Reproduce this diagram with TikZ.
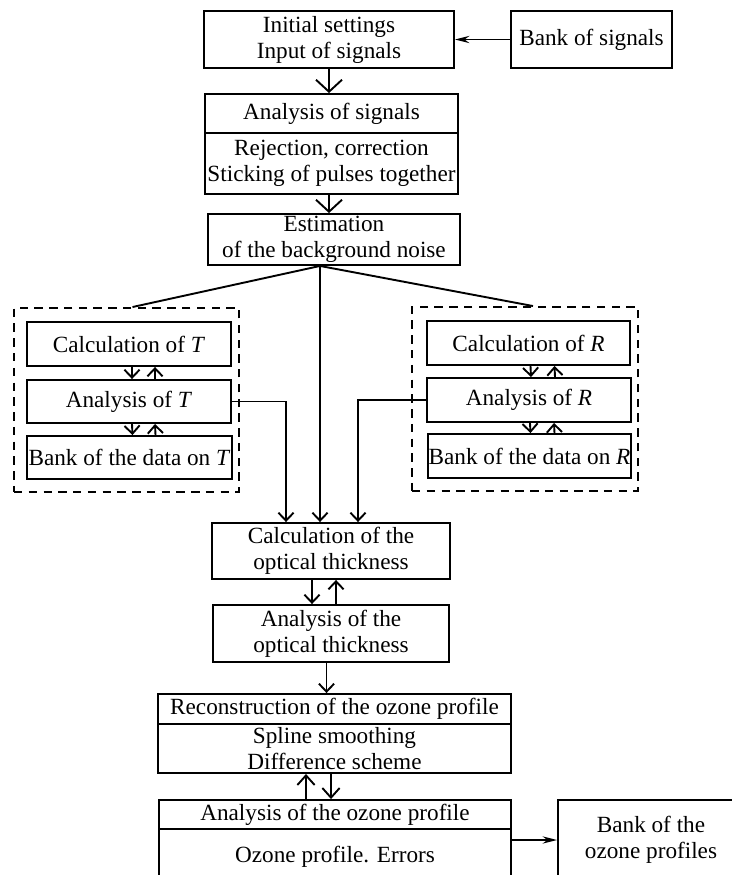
\documentclass[tikz,border=0pt]{standalone}
\usepackage{fontspec}
\setmainfont{Liberation Serif}
\usetikzlibrary{arrows.meta,calc}

\begin{document}
\begin{tikzpicture}[x=0.025cm,y=-0.025cm,line width=1.35pt,
    every node/.style={font=\fontsize{16.5}{18.5}\selectfont},
    box/.style={draw,rectangle,align=center,inner sep=0pt},
    dashframe/.style={draw,dash pattern=on 6pt off 4.5pt,inner sep=0pt},
    bigarrow/.style={-{Straight Barb[length=3mm,width=6.5mm]}},
    midarrow/.style={-{Straight Barb[length=2.4mm,width=4.3mm]}},
    smallarrow/.style={-{Straight Barb[length=2mm,width=3.8mm]}},
    feedarrow/.style={-{Stealth[length=3.6mm,width=1.8mm,inset=1.2mm]}}]
    \useasboundingbox (0,0) rectangle (731,875);

    \node[box,minimum width=6.25cm,minimum height=1.425cm] (init) at (329,39.5) {Initial settings\\Input of signals};
    \node[box,minimum width=4.025cm,minimum height=1.425cm] (banksig) at (591.5,39.5) {Bank of signals};
    \node[box,minimum width=6.325cm,minimum height=0.975cm] (sighead) at (331.5,113.5) {Analysis of signals};
    \node[box,minimum width=6.325cm,minimum height=1.525cm] (sigbody) at (331.5,163.5) {Rejection, correction\\Sticking of pulses together};
    \node[box,minimum width=6.3cm,minimum height=1.275cm] (est) at (334,239.5) {Estimation\\of the background noise};

    \node[dashframe,minimum width=5.625cm,minimum height=4.6cm] (tgroup) at (126.5,400) {};
    \node[box,minimum width=5.1cm,minimum height=1.1cm] (calcT) at (129,344) {Calculation of \textit{T}};
    \node[box,minimum width=5.1cm,minimum height=1.075cm] (anaT) at (129,401.5) {Analysis of \textit{T}};
    \node[box,minimum width=5.125cm,minimum height=1.075cm] (bankT) at (129.5,457.5) {Bank of the data on \textit{T}};

    \node[dashframe,minimum width=5.65cm,minimum height=4.6cm] (rgroup) at (525,399) {};
    \node[box,minimum width=5.075cm,minimum height=1.1cm] (calcR) at (528.5,343) {Calculation of \textit{R}};
    \node[box,minimum width=5.1cm,minimum height=1.1cm] (anaR) at (529,400) {Analysis of \textit{R}};
    \node[box,minimum width=5.075cm,minimum height=1.1cm] (bankR) at (529.5,456) {Bank of the data on \textit{R}};

    \node[box,minimum width=5.95cm,minimum height=1.4cm] (calcOpt) at (331,551) {Calculation of the\\optical thickness};
    \node[box,minimum width=5.9cm,minimum height=1.425cm] (anaOpt) at (331,633.5) {Analysis of the\\optical thickness};

    \node[box,minimum width=8.825cm,minimum height=0.75cm] (reconhead) at (334.5,709) {Reconstruction of the ozone profile};
    \node[box,minimum width=8.825cm,minimum height=1.225cm] (reconbody) at (334.5,748.5) {Spline smoothing\\Difference scheme};
    \node[box,minimum width=8.8cm,minimum height=0.725cm] (ozhead) at (335,814.5) {Analysis of the ozone profile};
    \node[box,minimum width=8.8cm,minimum height=1.4cm] (ozbody) at (335,857) {Ozone profile. Errors};
    \node[box,minimum width=4.65cm,minimum height=2cm] (bankoz) at (651,840) {Bank of the\\ozone profiles};

    \draw[feedarrow] (banksig.west) -- (init.east);
    \draw[bigarrow] (init.south) -- (init.south |- sighead.north);
    \draw[bigarrow] (init.south |- sigbody.south) -- (init.south |- est.north);

    \coordinate (fan) at ($(est.south)+(-14,0)$);
    \draw (fan) -- ($(tgroup.north)+(6,0)$);
    \draw (fan) -- ($(rgroup.north)+(8,0)$);
    \draw[smallarrow] (fan) -- (fan |- calcOpt.north);

    \draw[smallarrow] ($(calcT.south)+(3,0)$) -- ($(anaT.north)+(3,0)$);
    \draw[smallarrow] ($(anaT.north)+(26,0)$) -- ($(calcT.south)+(26,0)$);
    \draw[smallarrow] ($(anaT.south)+(3,0)$) -- ($(bankT.north)+(3,0)$);
    \draw[smallarrow] ($(bankT.north)+(26,0)$) -- ($(anaT.south)+(26,0)$);

    \draw[smallarrow] ($(calcR.south)+(2,0)$) -- ($(anaR.north)+(2,0)$);
    \draw[smallarrow] ($(anaR.north)+(26,0)$) -- ($(calcR.south)+(26,0)$);
    \draw[smallarrow] ($(anaR.south)+(1,0)$) -- ($(bankR.north)+(1,0)$);
    \draw[smallarrow] ($(bankR.north)+(25,0)$) -- ($(anaR.south)+(25,0)$);

    \draw[smallarrow] (anaT.east) -| ($(calcOpt.north)+(-45,0)$);
    \draw[smallarrow] (anaR.west) -| ($(calcOpt.north)+(27,0)$);

    \draw[smallarrow] ($(calcOpt.south)+(-19,0)$) -- ($(anaOpt.north)+(-19,0)$);
    \draw[smallarrow] ($(anaOpt.north)+(5,0)$) -- ($(calcOpt.south)+(5,0)$);
    \draw[smallarrow] ($(anaOpt.south)+(-4.5,0)$) coordinate (o) -- (o |- reconhead.north);

    \draw[midarrow] ($(ozhead.north)+(-29,0)$) -- ($(reconbody.south)+(-28.5,0)$);
    \draw[midarrow] ($(reconbody.south)+(-3.5,0)$) -- ($(ozhead.north)+(-4,0)$);
    \draw[feedarrow] (ozbody.east |- bankoz.west) -- (bankoz.west);
\end{tikzpicture}
\end{document}
